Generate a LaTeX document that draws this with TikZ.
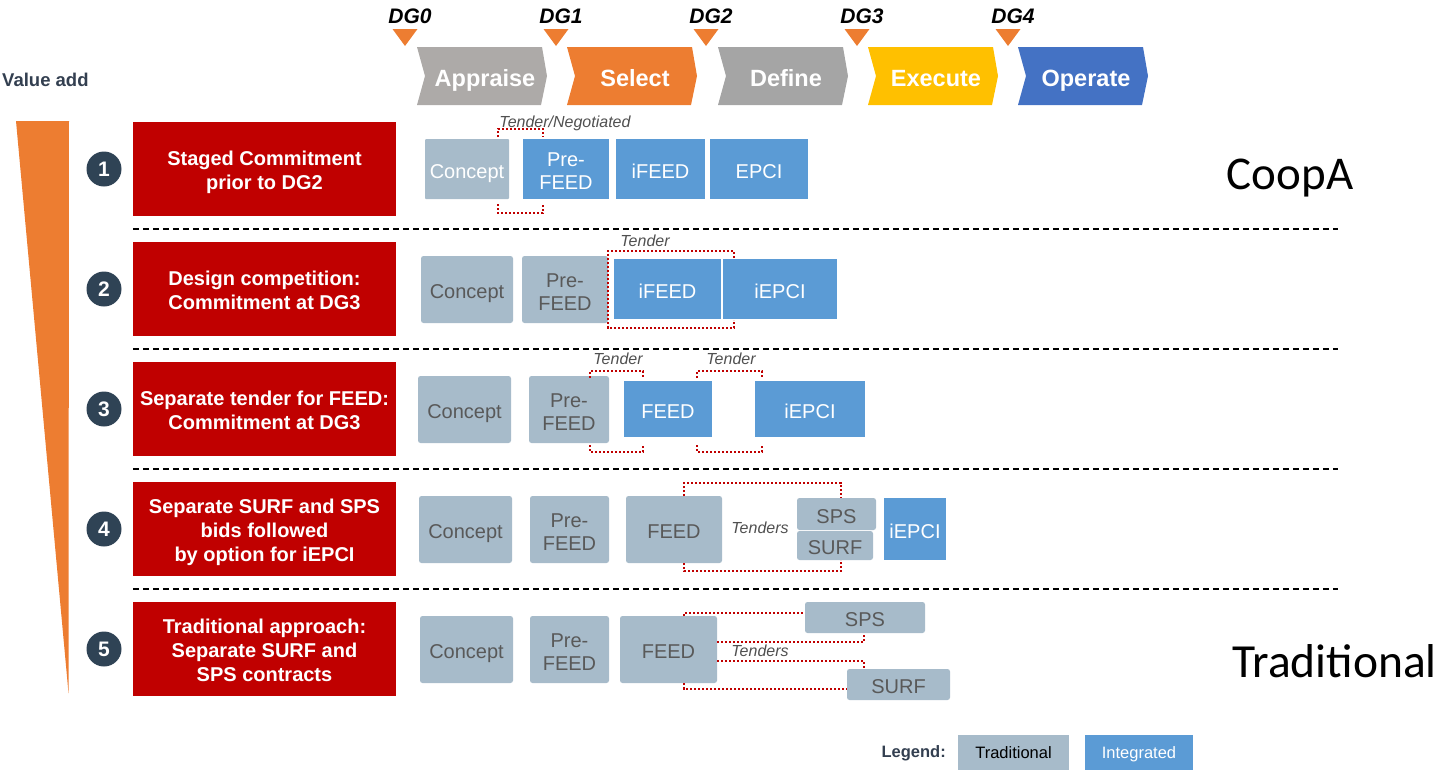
\documentclass[tikz,border=0pt]{standalone}
\usepackage{fontspec}
\setmainfont{Liberation Sans}
\newfontfamily\calibri{Carlito}
\usetikzlibrary{calc}
\definecolor{tradgray}{RGB}{167,187,202}
\definecolor{intblue}{RGB}{91,155,213}
\definecolor{darkred}{RGB}{192,0,0}
\definecolor{slate}{RGB}{47,67,85}
\definecolor{orng}{RGB}{237,125,49}
\definecolor{appgray}{RGB}{173,170,168}
\definecolor{defgray}{RGB}{165,165,165}
\definecolor{execyel}{RGB}{255,192,0}
\definecolor{opblue}{RGB}{68,114,196}
\definecolor{txtgray}{RGB}{89,89,89}
\definecolor{labgray}{RGB}{80,80,80}
\definecolor{legtxt}{RGB}{51,63,80}
\newcommand{\fs}[2]{\fontsize{#1}{#2}\selectfont}
\newcommand{\mybox}[7]{\node[#1, minimum width={#5-#3}, minimum height={#6-#4}] (#2) at ({(#3+#5)/2},{(#4+#6)/2}) {};
  \node[#1, fill=none, minimum size=0pt, text depth=0pt, yshift=-\bts] (#2t) at (#2.center) {#7};}
\newcommand{\chev}[4]{\fill[#2] (#1,47) -- ++(125,0) -- ++(5,29) -- ++(-6,29) -- (#1,105) -- ++(8,-29) -- cycle;
  \node[chevtext, anchor=base] (#4) at (#1+68,86) {#3};}
\newcommand{\dgmark}[3]{\fill[orng] (#1-12.5,29) -- (#1+12.5,29) -- (#1,46) -- cycle;
  \node[dglbl] (#3) at (#1+5,16) {#2};}
\tikzset{
  boxtextshift/.store in=\bts, boxtextshift=2.5pt,
  tbox/.style={fill=tradgray, rounded corners=2.5pt, text=txtgray, font=\fs{20}{23}, align=center, inner sep=0pt},
  ibox/.style={fill=intblue, text=white, font=\fs{20}{23}, align=center, inner sep=0pt},
  redbox/.style={fill=darkred, text=white, font=\bfseries\fs{20}{24}, align=center, inner sep=0pt, boxtextshift=1pt},
  numc/.style={circle, fill=slate, text=white, font=\bfseries\fs{21}{21}, minimum size=35pt, inner sep=0pt},
  tdot/.style={draw=darkred, line width=2.8pt, dash pattern=on 2.2pt off 1.8pt},
  lbl/.style={font=\itshape\fs{16}{16}, text=labgray, inner sep=1pt, text depth=0pt},
  sepline/.style={draw=black, line width=1.2pt, dash pattern=on 6pt off 4pt},
  chevtext/.style={text=white, font=\bfseries\fs{23.5}{24}, inner sep=0pt},
  dglbl/.style={font=\bfseries\itshape\fs{21}{21}, text=black, inner sep=0pt},
}
\begin{document}
\begin{tikzpicture}[x=1pt,y=-1pt]
\useasboundingbox (0,0) rectangle (1441,769);

% header
\dgmark{405}{DG0}{dg0}
\dgmark{556}{DG1}{dg1}
\dgmark{706}{DG2}{dg2}
\dgmark{857}{DG3}{dg3}
\dgmark{1008}{DG4}{dg4}
\chev{417}{appgray}{Appraise}{ch1}
\chev{567}{orng}{Select}{ch2}
\chev{718}{defgray}{Define}{ch3}
\chev{868}{execyel}{Execute}{ch4}
\chev{1018}{opblue}{Operate}{ch5}

\node[anchor=west, font=\bfseries\fs{18.5}{19}, text=legtxt, inner sep=0pt] (valueadd) at (2,80) {Value add};
\fill[orng] (16,121) -- (69,121) -- (68.5,693) -- cycle;

% red boxes and numbers
\mybox{redbox}{r1}{133}{122}{396}{216}{Staged Commitment\\prior to DG2}
\mybox{redbox}{r2}{133}{242}{396}{336}{Design competition:\\Commitment at DG3}
\mybox{redbox}{r3}{133}{362}{396}{456}{Separate tender for FEED:\\Commitment at DG3}
\mybox{redbox}{r4}{133}{482}{396}{576}{Separate SURF and SPS\\bids followed\\by option for iEPCI}
\mybox{redbox}{r5}{133}{602}{396}{696}{Traditional approach:\\Separate SURF and\\SPS contracts}
\node[numc] (n1) at (104,169) {1};
\node[numc] (n2) at (104,289) {2};
\node[numc] (n3) at (104,409) {3};
\node[numc] (n4) at (104,529) {4};
\node[numc] (n5) at (104,649) {5};

% separators
\foreach \yy in {229,349,469,589} \draw[sepline] (133,\yy) -- (1338,\yy);

% row 1
\mybox{tbox, text=white, rounded corners=1pt}{c1}{425}{139}{509}{199}{Concept}
\mybox{ibox}{p1}{523}{139}{609}{199}{Pre-\\FEED}
\mybox{ibox}{f1}{616}{139}{705}{199}{iFEED}
\mybox{ibox}{e1}{710}{139}{808}{199}{EPCI}
\node[lbl] (t1) at (565,122) {Tender/Negotiated};
\draw[tdot] (498,137) -- (498,129) -- (543,129) -- (543,137);
\draw[tdot] (498,204) -- (498,213) -- (543,213) -- (543,204);

% row 2
\mybox{tbox}{c2}{421}{256}{513}{323}{Concept}
\mybox{tbox}{p2}{522}{256}{608}{323}{Pre-\\FEED}
\mybox{ibox}{f2}{614}{259}{721}{319}{iFEED}
\mybox{ibox}{e2}{723}{259}{837}{319}{iEPCI}
\node[lbl] (t2) at (645,241) {Tender};
\draw[tdot] (734,258) -- (734,251) -- (608,251) -- (608,328) -- (734,328) -- (734,320);

% row 3
\mybox{tbox}{c3}{418}{376}{511}{443}{Concept}
\mybox{tbox}{p3}{529}{376}{609}{443}{Pre-\\FEED}
\mybox{ibox}{f3}{624}{381}{712}{437}{FEED}
\mybox{ibox}{e3}{755}{381}{865}{437}{iEPCI}
\node[lbl] (t3a) at (618,359) {Tender};
\node[lbl] (t3b) at (731,359) {Tender};
\draw[tdot] (590,378) -- (590,371) -- (643,371) -- (643,378);
\draw[tdot] (590,445) -- (590,452) -- (643,452) -- (643,445);
\draw[tdot] (697,378) -- (697,371) -- (762,371) -- (762,378);
\draw[tdot] (697,445) -- (697,452) -- (762,452) -- (762,445);

% row 4
\mybox{tbox}{c4}{419}{496}{512}{563}{Concept}
\mybox{tbox}{p4}{530}{496}{609}{563}{Pre-\\FEED}
\mybox{tbox}{f4}{626}{496}{722}{563}{FEED}
\mybox{tbox}{sps4}{797}{498}{876}{530}{SPS}
\mybox{tbox}{surf4}{797}{531}{873}{560}{SURF}
\mybox{ibox}{e4}{884}{498}{946}{560}{iEPCI}
\node[lbl, fill=white] (t4) at (760,528) {Tenders};
\draw[tdot] (684,496) -- (684,483) -- (841,483) -- (841,498);
\draw[tdot] (684,563) -- (684,571) -- (841,571) -- (841,560);

% row 5
\mybox{tbox}{c5}{420}{616}{513}{683}{Concept}
\mybox{tbox}{p5}{530}{616}{609}{683}{Pre-\\FEED}
\mybox{tbox}{f5}{620}{616}{717}{683}{FEED}
\mybox{tbox}{sps5}{805}{602}{925}{633}{SPS}
\mybox{tbox}{surf5}{847}{669}{950}{700}{SURF}
\node[lbl] (t5) at (760,651) {Tenders};
\draw[tdot] (684,616) -- (684,613) -- (sps5.west |- 0,613);
\draw[tdot] (f5.east |- 0,642) -- (864,642) -- (864,633);
\draw[tdot] (f5.east |- 0,661) -- (864,661) -- (864,669);
\draw[tdot] (684,683) -- (684,689) -- (surf5.west |- 0,689);

% side labels
\node[font=\calibri\fs{47}{47}, text=black, inner sep=0pt] (coopa) at (1290,178) {CoopA};
\node[font=\calibri\fs{47.5}{48}, text=black, inner sep=0pt, anchor=west] (trad) at (1232,661) {Traditional};

% legend
\node[anchor=east, font=\bfseries\fs{16.5}{17}, text=legtxt, inner sep=0pt] (leg) at (946,753) {Legend:};
\mybox{tbox, rounded corners=0pt, text=black, font=\fs{16.5}{17}, boxtextshift=0pt}{legt}{958}{735}{1069}{771}{Traditional}
\mybox{ibox, font=\fs{16.5}{17}, boxtextshift=0pt}{legi}{1085}{735}{1193}{771}{Integrated}
\end{tikzpicture}
\end{document}
